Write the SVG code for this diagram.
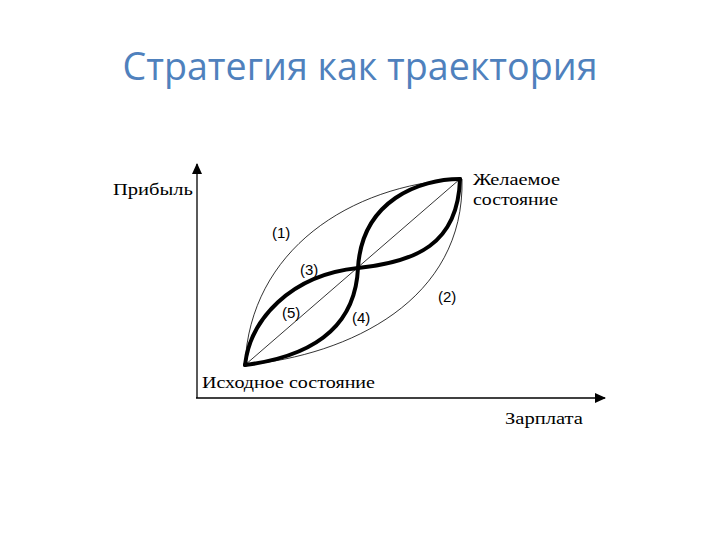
<svg xmlns="http://www.w3.org/2000/svg" width="720" height="540" viewBox="0 0 720 540">
<defs>
<style>
.title{font-family:"Open Sans","Liberation Sans",sans-serif;font-size:38px;fill:#4f81bd}
.lab{font-family:"Liberation Serif","DejaVu Serif",serif;font-size:17px;fill:#000}
.num{font-family:"Liberation Sans","DejaVu Sans",sans-serif;font-size:15px;fill:#000}
.axis{stroke:#000;stroke-width:1.3;fill:none}
.thin{stroke:#000;stroke-width:0.8;fill:none}
.thick{stroke:#000;stroke-width:4;fill:none;stroke-linecap:round}
</style>
<marker id="arr" markerWidth="12" markerHeight="10" refX="10" refY="5" orient="auto" markerUnits="userSpaceOnUse">
<path d="M0,0 L11,5 L0,10 Z" fill="#000"/>
</marker>
</defs>
<rect width="720" height="540" fill="#fff"/>
<text class="title" x="360" y="80" text-anchor="middle" textLength="475" lengthAdjust="spacingAndGlyphs">Стратегия как траектория</text>
<g id="axes">
<line class="axis" x1="197" y1="398" x2="197" y2="164" marker-end="url(#arr)"/>
<line class="axis" x1="196" y1="398" x2="605" y2="398" marker-end="url(#arr)"/>
</g>
<g id="connectors">
<line class="thin" x1="245" y1="365" x2="460" y2="179"/>
<path id="c1" class="thin" d="M245,365 C250,250 350,185 460,179"/>
<path id="c2" class="thin" d="M245,365 C350,355 465,300 462,179"/>
<path id="c3" class="thick" d="M245,365 C250,320 290,275 358,268 C415,262 458,245 460,179"/>
<path id="c4" class="thick" d="M245,365 C300,358 355,335 358,268 C362,200 420,179 460,179"/>
</g>
<g id="n-profit"><text class="lab" x="113" y="195" textLength="80" lengthAdjust="spacingAndGlyphs">Прибыль</text></g>
<g id="n-desired">
<text class="lab" x="473" y="185" textLength="87" lengthAdjust="spacingAndGlyphs">Желаемое</text>
<text class="lab" x="473" y="205" textLength="85" lengthAdjust="spacingAndGlyphs">состояние</text>
</g>
<g id="n-initial"><text class="lab" x="202" y="388" textLength="173" lengthAdjust="spacingAndGlyphs">Исходное состояние</text></g>
<g id="n-salary"><text class="lab" x="505" y="424" textLength="78" lengthAdjust="spacingAndGlyphs">Зарплата</text></g>
<g id="labels">
<text class="num" x="272" y="238">(1)</text>
<text class="num" x="438" y="302">(2)</text>
<text class="num" x="300" y="275">(3)</text>
<text class="num" x="352" y="323">(4)</text>
<text class="num" x="282" y="318">(5)</text>
</g>
</svg>
